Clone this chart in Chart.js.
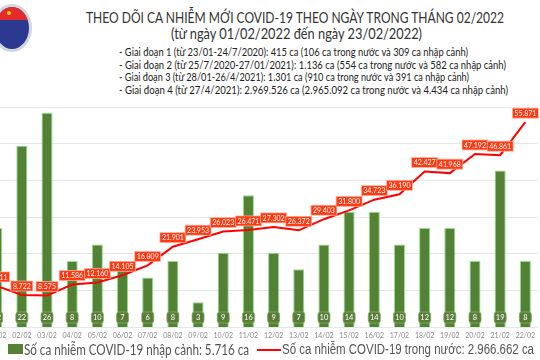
<!DOCTYPE html>
<html>
<head>
<meta charset="utf-8">
<script src="https://cdn.jsdelivr.net/npm/chart.js@4.4.1/dist/chart.umd.min.js"></script>
<style>
  body { margin: 0; width: 540px; height: 360px; overflow: hidden; background: #fff; position: relative; font-family: Lato, sans-serif; }
  .logo { position: absolute; left: -8px; top: 4px; width: 34px; height: 42px; border-radius: 50%; background: #2b3990; border: 3px solid #d3d6de; overflow: hidden; }
  .logo .top { position: absolute; left: 0; top: 0; width: 100%; height: 13px; background: #e32b2b; }
  .logo .star { position: absolute; left: 12px; top: 4px; width: 4px; height: 4px; background: #ffd400; border-radius: 50%; }
  .fit { position: absolute; white-space: nowrap; transform-origin: 0 0; }
  .title { left: 86px; top: 8px; font-size: 15px; color: #333; }
  .sub { left: 171px; top: 24px; font-size: 15px; color: #333; }
  .note { left: 119px; font-size: 10.5px; color: #222; }
  #wrap { position: absolute; left: -18px; top: 100px; width: 558px; height: 241px; }
  .lg1 { position: absolute; left: 8px; top: 344px; width: 15px; height: 10px; background: #548235; }
  .lt1 { left: 24px; top: 340px; font-size: 15px; color: #555; }
  .lg2 { position: absolute; left: 257px; top: 349px; width: 24px; height: 2px; background: #ff0000; }
  .lt2 { left: 282px; top: 341px; font-family: "Liberation Sans", Arial, sans-serif; font-size: 14px; color: #555; }
</style>
</head>
<body>
<div class="logo"><div class="top"></div><div class="star"></div></div>
<div class="fit title" data-w="418">THEO DÕI CA NHIỄM MỚI COVID-19 THEO NGÀY TRONG THÁNG 02/2022</div>
<div class="fit sub" data-w="251">(từ ngày 01/02/2022 đến ngày 23/02/2022)</div>
<div class="fit note" style="top:46px" data-w="349">- Giai đoạn 1 (từ 23/01-24/7/2020): 415 ca (106 ca trong nước và 309 ca nhập cảnh)</div>
<div class="fit note" style="top:59px" data-w="387">- Giai đoạn 2 (từ 25/7/2020-27/01/2021): 1.136 ca (554 ca trong nước và 582 ca nhập cảnh)</div>
<div class="fit note" style="top:71px" data-w="350">- Giai đoạn 3 (từ 28/01-26/4/2021): 1.301 ca (910 ca trong nước và 391 ca nhập cảnh)</div>
<div class="fit note" style="top:84px" data-w="389">- Giai đoạn 4 (từ 27/4/2021): 2.969.526 ca (2.965.092 ca trong nước và 4.434 ca nhập cảnh)</div>
<div id="wrap"><canvas id="chart"></canvas></div>
<div class="lg1"></div>
<div class="fit lt1" data-w="225">Số ca nhiễm COVID-19 nhập cảnh: 5.716 ca</div>
<div class="lg2"></div>
<div class="fit lt2" data-w="252">Số ca nhiễm COVID-19 trong nước: 2.966.662 ca</div>
<script>
// ngày trong tháng 02/2022
const days = ['01/02', '02/02', '03/02', '04/02', '05/02', '06/02', '07/02', '08/02', '09/02', '10/02', '11/02',
  '12/02', '13/02', '14/02', '15/02', '16/02', '17/02', '18/02', '19/02', '20/02', '21/02', '22/02'];
// ca nhập cảnh
const importedCases = [12, 22, 26, 8, 10, 7, 6, 8, 3, 9, 16, 9, 7, 10, 14, 14, 10, 12, 12, 8, 19, 8];
// ca trong nước
const localCases = [11211, 8722, 8575, 11586, 12160, 14105, 16809, 21901, 23953, 26023, 26471,
  27302, 26372, 29403, 31800, 34723, 36190, 42427, 41968, 47192, 46861, 55871];

// co chữ cho vừa bề rộng như ảnh gốc
document.querySelectorAll('.fit').forEach(el => {
  const target = +el.dataset.w;
  const w = el.getBoundingClientRect().width;
  el.style.transform = 'scaleX(' + (target / w) + ')';
});

function fmt(n) {
  return String(n).replace(/\B(?=(\d{3})+(?!\d))/g, '.');
}

function roundBox(ctx, x, y, w, h, r) {
  ctx.beginPath();
  ctx.moveTo(x + r, y);
  ctx.lineTo(x + w - r, y);
  ctx.quadraticCurveTo(x + w, y, x + w, y + r);
  ctx.lineTo(x + w, y + h - r);
  ctx.quadraticCurveTo(x + w, y + h, x + w - r, y + h);
  ctx.lineTo(x + r, y + h);
  ctx.quadraticCurveTo(x, y + h, x, y + h - r);
  ctx.lineTo(x, y + r);
  ctx.quadraticCurveTo(x, y, x + r, y);
  ctx.closePath();
}

// nhãn số liệu: ô xanh ở chân cột, ô đỏ trên đường
const valueLabels = {
  id: 'valueLabels',
  afterDatasetsDraw(chart) {
    const ctx = chart.ctx;
    ctx.save();
    ctx.textAlign = 'center';
    ctx.textBaseline = 'middle';

    ctx.font = '7.5px Lato, sans-serif';
    const bars = chart.getDatasetMeta(0).data;
    bars.forEach((bar, i) => {
      const w = 12, h = 11;
      const x = bar.x - w / 2, y = bar.base - 15;
      roundBox(ctx, x, y, w, h, 2.5);
      ctx.fillStyle = '#5a7c3a';
      ctx.fill();
      ctx.strokeStyle = '#7fae5c';
      ctx.lineWidth = 0.8;
      ctx.stroke();
      ctx.fillStyle = '#ffffff';
      ctx.fillText(importedCases[i], bar.x, y + h / 2 + 0.5);
    });

    ctx.font = '7px Lato, sans-serif';
    const pts = chart.getDatasetMeta(1).data;
    pts.forEach((p, i) => {
      const txt = fmt(localCases[i]);
      const w = ctx.measureText(txt).width + 4, h = 10;
      let cx = p.x;
      if (cx + w / 2 > chart.width) cx = chart.width - w / 2;
      const x = cx - w / 2, y = p.y - 14;
      ctx.fillStyle = '#ff3a12';
      ctx.fillRect(x, y, w, h);
      ctx.strokeStyle = '#ffb9a8';
      ctx.lineWidth = 0.7;
      ctx.strokeRect(x, y, w, h);
      ctx.fillStyle = '#ffffff';
      ctx.fillText(txt, cx, y + h / 2 + 0.5);
    });
    ctx.restore();
  }
};

const chart = new Chart(document.getElementById('chart'), {
  data: {
    labels: days,
    datasets: [{
      type: 'bar',
      label: 'Số ca nhiễm COVID-19 nhập cảnh',
      data: importedCases,
      backgroundColor: '#548235',
      borderColor: '#8ee08e',
      borderWidth: 1,
      barPercentage: 0.44,
      categoryPercentage: 1,
      yAxisID: 'yB',
      order: 2
    }, {
      type: 'line',
      label: 'Số ca nhiễm COVID-19 trong nước',
      data: localCases,
      borderColor: '#ff0000',
      borderWidth: 2,
      pointRadius: 0,
      tension: 0,
      yAxisID: 'yL',
      order: 1
    }]
  },
  options: {
    responsive: true,
    maintainAspectRatio: false,
    animation: false,
    layout: { padding: { top: 7, left: 0, right: 0, bottom: 0 } },
    plugins: { legend: { display: false }, tooltip: { enabled: false } },
    scales: {
      x: {
        grid: { display: false, drawTicks: false },
        border: { display: false },
        ticks: { autoSkip: false, maxRotation: 0, color: '#888', font: { size: 7, family: 'Lato' }, padding: 5 },
        afterFit(scale) { scale.height = 14; }
      },
      yL: {
        position: 'left',
        min: 0,
        max: 60000,
        ticks: { display: false, stepSize: 10000 },
        grid: { color: '#e6e6e6', drawTicks: false, lineWidth: 1 },
        border: { display: false },
        afterFit(scale) { scale.width = 0; }
      },
      yB: {
        display: false,
        min: 0,
        max: 26.7
      }
    }
  },
  plugins: [valueLabels]
});
</script>
</body>
</html>
